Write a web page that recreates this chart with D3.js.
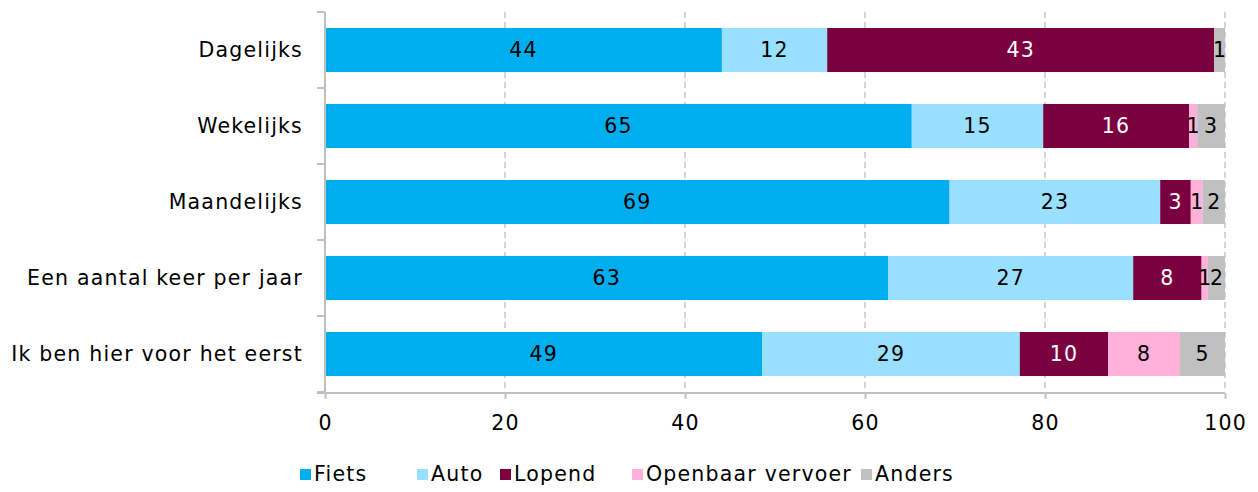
<!DOCTYPE html>
<html><head><meta charset="utf-8">
<script src="https://cdn.jsdelivr.net/npm/d3@7"></script>
<style>
body{margin:0;background:#fff;}
text{font-family:"DejaVu Sans",sans-serif;letter-spacing:1.2px;}
</style></head>
<body><svg id="c" width="1258" height="492"></svg>
<script>
const categories = ["Dagelijks","Wekelijks","Maandelijks","Een aantal keer per jaar","Ik ben hier voor het eerst"];
const seriesNames = ["Fiets","Auto","Lopend","Openbaar vervoer","Anders"];
const fiets = [44.1, 65.2, 69.4, 62.6, 48.6];
const auto = [11.7, 14.6, 23.4, 27.2, 28.6];
const lopend = [43.0, 16.2, 3.4, 7.6, 9.8];
const ov = [0, 0.9, 1.3, 0.7, 8.0];
const anders = [1.2, 3.1, 2.49, 1.9, 5.0];
const xTicks = [0, 20, 40, 60, 80, 100];
const colors = ["#00aeef","#99e0ff","#7b0040","#ffb1da","#c0c0c0"];
const textColors = ["#000","#000","#fff","#000","#000"];

const seriesVals = [fiets, auto, lopend, ov, anders];
const rows = categories.map((c,i)=>{const o={cat:c}; seriesNames.forEach((s,j)=>o[s]=seriesVals[j][i]); return o;});
const stack = d3.stack().keys(seriesNames)(rows);

const svg = d3.select("#c");
const x = d3.scaleLinear().domain([0,100]).range([325,1225]);
const y = d3.scaleBand().domain(categories).range([12,392]).paddingInner(0.42).paddingOuter(0.21);

// grid
svg.append("g").selectAll("line").data(xTicks.slice(1)).join("line")
  .attr("x1",d=>x(d)).attr("x2",d=>x(d)).attr("y1",12).attr("y2",392)
  .attr("stroke","#c8c8c8").attr("stroke-width",1.5).attr("stroke-dasharray","6,4");

// bars
const g = svg.append("g");
stack.forEach((s,j)=>{
  g.append("g").selectAll("rect").data(s).join("rect")
    .attr("x",d=>x(d[0])).attr("width",d=>x(d[1])-x(d[0]))
    .attr("y",d=>y(d.data.cat)).attr("height",y.bandwidth())
    .attr("fill",colors[j]);
});
// labels
stack.forEach((s,j)=>{
  g.append("g").selectAll("text").data(s.filter(d=>d[1]-d[0]>0.3)).join("text")
    .attr("x",d=>x((d[0]+d[1])/2)).attr("y",d=>y(d.data.cat)+y.bandwidth()/2)
    .attr("dy","0.36em").attr("text-anchor","middle")
    .attr("font-size",20.5).attr("fill",textColors[j])
    .style("letter-spacing", d=>(d[1]-d[0]<2.5 ? "0px" : "1.2px"))
    .text(d=>Math.round(d[1]-d[0]));
});

// y axis
const ya = d3.axisLeft(y).tickSize(0).tickPadding(22);
const yg = svg.append("g").attr("transform","translate(325,0)").call(ya);
yg.select(".domain").remove();
yg.selectAll("text").attr("font-size",20.5).attr("fill","#000");
svg.append("line").attr("x1",325).attr("x2",325).attr("y1",12).attr("y2",393).attr("stroke","#c0c0c0").attr("stroke-width",2);
const bandEdges = categories.map(c=>y(c)-y.step()*y.paddingInner()/2).concat([392]);
svg.append("g").selectAll("line").data(bandEdges).join("line")
  .attr("x1",317).attr("x2",325).attr("y1",d=>d).attr("y2",d=>d)
  .attr("stroke","#c0c0c0").attr("stroke-width",2);

// x axis
const xa = d3.axisBottom(x).tickValues(xTicks).tickSize(6).tickPadding(16);
const xg = svg.append("g").attr("transform","translate(0,393)").call(xa);
xg.select(".domain").attr("d","M317,0H1225").attr("stroke","#c0c0c0").attr("stroke-width",2);
xg.selectAll(".tick line").attr("stroke","#c0c0c0").attr("stroke-width",2);
xg.selectAll("text").attr("font-size",20.5).attr("fill","#000");
svg.selectAll("g").attr("font-family",null);

// legend
const legX = [300, 417, 500, 632, 861];
const leg = svg.append("g");
seriesNames.forEach((s,j)=>{
  leg.append("rect").attr("x",legX[j]).attr("y",469).attr("width",11).attr("height",11).attr("fill",colors[j]);
  leg.append("text").attr("x",legX[j]+14).attr("y",474).attr("dy","0.36em").attr("font-size",20.5).text(s);
});
</script></body></html>
